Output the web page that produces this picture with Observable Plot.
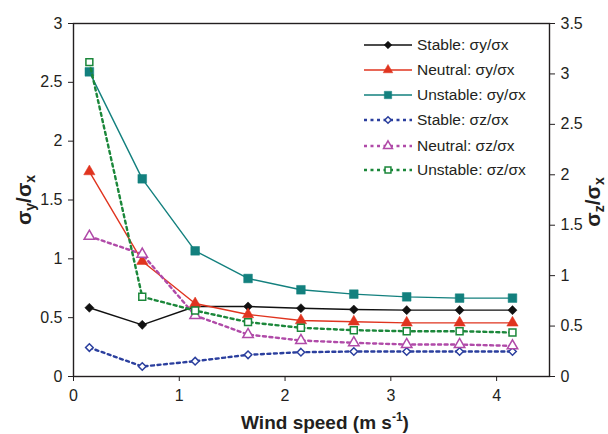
<!DOCTYPE html>
<html>
<head>
<meta charset="utf-8">
<script src="https://cdn.jsdelivr.net/npm/d3@7"></script>
<script src="https://cdn.jsdelivr.net/npm/@observablehq/plot@0.6"></script>
<style>
  html, body { margin: 0; padding: 0; background: #fff; }
  #chart { position: relative; width: 608px; height: 434px; }
  #chart svg { position: absolute; left: 0; top: 0; background: transparent; }
</style>
</head>
<body>
<div id="chart"></div>
<script>
// ---- data ----
const windSpeed   = [0.15, 0.65, 1.15, 1.65, 2.15, 2.65, 3.15, 3.65, 4.15];
const stableSyx   = [0.584, 0.439, 0.595, 0.595, 0.58, 0.569, 0.564, 0.564, 0.564];
const neutralSyx  = [1.742, 0.98, 0.62, 0.527, 0.476, 0.465, 0.456, 0.456, 0.456];
const unstableSyx = [2.589, 1.68, 1.068, 0.833, 0.737, 0.70, 0.677, 0.666, 0.666];
const stableSzx   = [0.287, 0.099, 0.152, 0.215, 0.241, 0.248, 0.248, 0.248, 0.248];
const neutralSzx  = [1.39, 1.213, 0.605, 0.416, 0.357, 0.334, 0.317, 0.317, 0.304];
const unstableSzx = [3.117, 0.79, 0.654, 0.539, 0.483, 0.459, 0.449, 0.449, 0.436];
const xTicks  = [0, 1, 2, 3, 4];
const yTicksL = [0, 0.5, 1, 1.5, 2, 2.5, 3];
const yTicksR = [0, 0.5, 1, 1.5, 2, 2.5, 3, 3.5];
const seriesNames = ["Stable: σy/σx", "Neutral: σy/σx", "Unstable: σy/σx",
                     "Stable: σz/σx", "Neutral: σz/σx", "Unstable: σz/σx"];

// ---- styles ----
const styles = [
  {color: "#111111", symbol: "diamond2", r: 4.1, filled: true,  dashed: false},
  {color: "#e0341f", symbol: "triangle", r: 4.2, filled: true,  dashed: false},
  {color: "#13807e", symbol: "square",   r: 4.9, filled: true,  dashed: false},
  {color: "#2b3f9e", symbol: "diamond2", r: 3.4, filled: false, dashed: true},
  {color: "#b04aa8", symbol: "triangle", r: 3.9, filled: false, dashed: true},
  {color: "#1b873a", symbol: "square",   r: 3.9, filled: false, dashed: true}
];
const allValues = [stableSyx, neutralSyx, unstableSyx, stableSzx, neutralSzx, unstableSzx];
const rows = (vals) => windSpeed.map((x, i) => ({x, v: vals[i]}));

function seriesMarks(idx) {
  const s = styles[idx];
  const data = rows(allValues[idx]);
  return [
    Plot.line(data, {x: "x", y: "v", stroke: s.color,
      strokeWidth: s.dashed ? 2.4 : 1.4,
      strokeDasharray: s.dashed ? "3,3.5" : null}),
    Plot.dot(data, {x: "x", y: "v", symbol: s.symbol, r: s.r,
      fill: s.filled ? s.color : "white", stroke: s.color,
      strokeWidth: s.filled ? 0.5 : 1.5})
  ];
}

const common = {
  width: 608, height: 434,
  marginLeft: 73, marginRight: 59, marginTop: 23, marginBottom: 58,
  style: {fontFamily: "'Liberation Sans', Arial, sans-serif", fontSize: "16px", color: "#231f20", background: "transparent"}
};

const p1 = Plot.plot({
  ...common,
  x: {domain: [0, 4.5]},
  y: {domain: [0, 3]},
  marks: [
    Plot.frame({stroke: "#231f20", strokeWidth: 1.4}),
    Plot.axisX({ticks: xTicks, tickSize: 5, tickPadding: 8, label: null, fontSize: 16, tickFormat: d3.format("")}),
    Plot.axisY({ticks: yTicksL, tickSize: 5, tickPadding: 6, label: null, fontSize: 16, tickFormat: d3.format("")}),
    ...seriesMarks(0), ...seriesMarks(1), ...seriesMarks(2)
  ]
});

const p2 = Plot.plot({
  ...common,
  x: {domain: [0, 4.5], axis: null},
  y: {domain: [0, 3.5]},
  marks: [
    Plot.axisY({anchor: "right", ticks: yTicksR, tickSize: 5, tickPadding: 6, label: null, fontSize: 16, tickFormat: d3.format("")}),
    ...seriesMarks(3), ...seriesMarks(4), ...seriesMarks(5)
  ]
});

const chart = document.getElementById("chart");
chart.appendChild(p1);
chart.appendChild(p2);

// ---- axis titles ----
const svg2 = d3.select(p2);
const font = "'Liberation Sans', Arial, sans-serif";

function sigmaTitle(tx, ty, sub) {
  const t = svg2.append("text")
    .attr("transform", `translate(${tx},${ty}) rotate(-90)`)
    .attr("text-anchor", "middle")
    .attr("font-family", font).attr("font-weight", "bold").attr("font-size", 21)
    .attr("fill", "#231f20");
  t.append("tspan").text("σ");
  t.append("tspan").attr("font-size", 14).attr("dy", 3.5).text(sub);
  t.append("tspan").attr("dy", -3.5).text("/σ");
  t.append("tspan").attr("font-size", 14).attr("dy", 3.5).text("x");
}
sigmaTitle(31, 200, "y");
sigmaTitle(600, 202, "z");

// x title
const xt = svg2.append("text")
  .attr("x", 325).attr("y", 429)
  .attr("text-anchor", "middle")
  .attr("font-family", font).attr("font-weight", "bold").attr("font-size", 19)
  .attr("fill", "#231f20");
xt.append("tspan").text("Wind speed (m s");
xt.append("tspan").attr("font-size", 12).attr("dy", -8).text("-1");
xt.append("tspan").attr("dy", 8).text(")");

// ---- legend ----
const symMap = {diamond2: d3.symbolDiamond2, triangle: d3.symbolTriangle, square: d3.symbolSquare};
const legendY = [45, 70, 95, 120, 146, 170];
const lg = svg2.append("g").attr("text-anchor", "start");
seriesNames.forEach((name, i) => {
  const s = styles[i];
  const g = lg.append("g").attr("transform", `translate(0,${legendY[i]})`);
  g.append("line").attr("x1", 364).attr("x2", 412).attr("y1", 0).attr("y2", 0)
    .attr("stroke", s.color).attr("stroke-width", s.dashed ? 2.4 : 1.4)
    .attr("stroke-dasharray", s.dashed ? "3,3.5" : null);
  g.append("path").attr("transform", "translate(388,0)")
    .attr("d", d3.symbol(symMap[s.symbol], Math.PI * (s.r * 0.85) ** 2)())
    .attr("fill", s.filled ? s.color : "white").attr("stroke", s.color)
    .attr("stroke-width", s.filled ? 0.5 : 1.5);
  g.append("text").attr("x", 417).attr("y", 0).attr("dy", "0.35em")
    .attr("text-anchor", "start")
    .attr("font-family", font).attr("font-size", 15.5).attr("fill", "#231f20")
    .text(name);
});
</script>
</body>
</html>
